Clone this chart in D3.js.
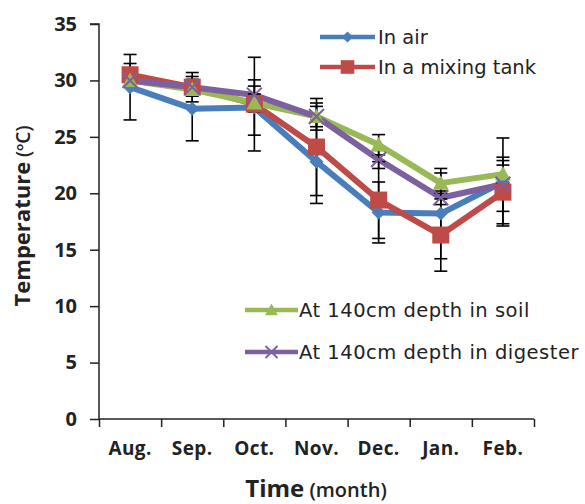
<!DOCTYPE html>
<html>
<head>
<meta charset="utf-8">
<script src="https://cdn.jsdelivr.net/npm/d3@7"></script>
<style>
  html, body { margin: 0; padding: 0; background: #fff; }
  svg { display: block; }
  text { font-family: "Open Sans", "DejaVu Sans", sans-serif; fill: #222; }
</style>
</head>
<body>
<svg id="chart" width="585" height="504"></svg>
<script>
// ---- data ----
const months = ["Aug.", "Sep.", "Oct.", "Nov.", "Dec.", "Jan.", "Feb."];
const yTicks = [0, 5, 10, 15, 20, 25, 30, 35];

const seriesNames = ["In air", "In a mixing tank", "At 140cm depth in soil", "At 140cm depth in digester"];
const airValues      = [29.4, 27.5, 27.6, 22.8, 18.3, 18.2, 21.0];
const airErrors      = [2.9, 2.85, 2.45, 3.7, 2.7, 4.0, 3.9];
const tankValues     = [30.5, 29.4, 27.9, 24.1, 19.4, 16.3, 20.1];
const tankErrors     = [1.0, 1.3, 4.15, 4.3, 3.4, 3.2, 2.8];
const soilValues     = [30.0, 29.2, 28.0, 26.8, 24.3, 20.9, 21.7];
const soilErrors     = [0.6, 0.6, 0.8, 0.9, 0.9, 0.9, 0.8];
const digesterValues = [30.0, 29.4, 28.7, 26.8, 23.0, 19.6, 20.8];
const digesterErrors = [0.6, 0.7, 0.8, 1.2, 0.8, 0.6, 2.4];

const colors = ["#4A7EBB", "#BE4B48", "#98B954", "#7D60A0"];
const markers = ["diamond", "square", "triangle", "x"];

const series = [
  { name: seriesNames[0], values: airValues, errors: airErrors, color: colors[0], marker: markers[0] },
  { name: seriesNames[1], values: tankValues, errors: tankErrors, color: colors[1], marker: markers[1] },
  { name: seriesNames[2], values: soilValues, errors: soilErrors, color: colors[2], marker: markers[2] },
  { name: seriesNames[3], values: digesterValues, errors: digesterErrors, color: colors[3], marker: markers[3] }
];

// ---- layout ----
const svg = d3.select("#chart");
const pL = 99, pR = 534, pT = 24, pB = 419;

const x = d3.scaleBand().domain(months).range([pL, pR]).paddingInner(0).paddingOuter(0);
const xEdge = d3.scaleLinear().domain([0, months.length]).range([pL, pR]);
const y = d3.scaleLinear().domain([0, 35]).range([pB, pT]);
const cx = m => x(m) + x.bandwidth() / 2;

function markerPath(type, k) {
  k = k || 1;
  switch (type) {
    case "diamond": return `M0,${-7*k}L${7*k},0L0,${7*k}L${-7*k},0Z`;
    case "square": return `M${-8.5*k},${-8.5*k}H${8.5*k}V${8.5*k}H${-8.5*k}Z`;
    case "triangle": return `M0,${-8*k}L${8*k},${6.5*k}H${-8*k}Z`;
    case "x": return `M${-7.5*k},${-7.5*k}L${7.5*k},${7.5*k}M${7.5*k},${-7.5*k}L${-7.5*k},${7.5*k}`;
  }
}

// axes
const yAxis = d3.axisLeft(y).tickValues(yTicks).tickSize(9).tickPadding(13).tickFormat(d3.format("d"));
const gy = svg.append("g").attr("transform", `translate(${pL},0)`).call(yAxis);
gy.select(".domain").attr("stroke", "#222").attr("stroke-width", 1.5).attr("d", `M-9,${pT}H0V${pB}`);
gy.selectAll(".tick line").attr("stroke", "#222").attr("stroke-width", 1.5);
gy.selectAll(".tick text").style("font-size", "20px").style("font-weight", "bold")
  .style("font-family", "'Open Sans', sans-serif").attr("fill", "#222");

const xTickAxis = d3.axisBottom(xEdge).tickValues(d3.range(0, months.length + 1)).tickSize(8).tickFormat("");
const gxt = svg.append("g").attr("transform", `translate(0,${pB})`).call(xTickAxis);
gxt.select(".domain").attr("stroke", "#222").attr("stroke-width", 1.5).attr("d", `M${pL},0H${pR}`);
gxt.selectAll(".tick line").attr("stroke", "#222").attr("stroke-width", 1.5);

const xLabelAxis = d3.axisBottom(x).tickSize(0).tickPadding(23);
const gx = svg.append("g").attr("transform", `translate(0,${pB})`).call(xLabelAxis);
gx.select(".domain").remove();
gx.selectAll(".tick text").style("font-size", "19px").style("font-weight", "bold")
  .style("font-family", "'Open Sans', sans-serif").style("letter-spacing", "0.4px").attr("fill", "#222");

// axis titles
const xt = svg.append("text").attr("x", 316).attr("y", 497).attr("text-anchor", "middle");
xt.append("tspan").text("Time").style("font-size", "24px").style("font-weight", "bold");
xt.append("tspan").text(" (month)").style("font-size", "20px").style("font-weight", "600");

const yt = svg.append("text").attr("transform", "translate(30,216) rotate(-90)").attr("text-anchor", "middle");
yt.append("tspan").text("Temperature").style("font-size", "22px").style("font-weight", "bold");
yt.append("tspan").text(" (ºC)").style("font-size", "19px").style("font-weight", "600");

// lines
const line = d3.line().x((d, i) => cx(months[i])).y(d => y(d));
const plot = svg.append("g");
series.forEach(s => {
  plot.append("path").datum(s.values).attr("d", line).attr("fill", "none")
    .attr("stroke", s.color).attr("stroke-width", 6).attr("stroke-linejoin", "round");
});

// error bars
series.forEach(s => {
  const g = plot.append("g").attr("stroke", "#000").attr("stroke-width", 1.6).attr("fill", "none");
  s.values.forEach((v, i) => {
    const px = cx(months[i]);
    const y1 = y(v + s.errors[i]), y0 = y(v - s.errors[i]);
    g.append("line").attr("x1", px).attr("x2", px).attr("y1", y1).attr("y2", y0);
    g.append("line").attr("x1", px - 6.5).attr("x2", px + 6.5).attr("y1", y1).attr("y2", y1);
    g.append("line").attr("x1", px - 6.5).attr("x2", px + 6.5).attr("y1", y0).attr("y2", y0);
  });
});

// markers
function drawMarker(g, type, color, px, py, k) {
  const p = g.append("path").attr("d", markerPath(type, k)).attr("transform", `translate(${px},${py})`);
  if (type === "x") p.attr("stroke", color).attr("stroke-width", 2).attr("fill", "none");
  else p.attr("fill", color).attr("stroke", "none");
}
series.forEach(s => {
  const g = plot.append("g");
  s.values.forEach((v, i) => drawMarker(g, s.marker, s.color, cx(months[i]), y(v), 1));
});

// legends
const legendPos = [
  { x0: 320, x1: 375, y: 37, tx: 378, ls: 0 },
  { x0: 320, x1: 375, y: 67, tx: 378, ls: 0 },
  { x0: 245, x1: 298, y: 310, tx: 299, ls: 0.5 },
  { x0: 245, x1: 298, y: 352, tx: 299, ls: 0.5 }
];
series.forEach((s, i) => {
  const p = legendPos[i];
  const g = svg.append("g");
  g.append("line").attr("x1", p.x0).attr("x2", p.x1).attr("y1", p.y).attr("y2", p.y)
    .attr("stroke", s.color).attr("stroke-width", 4.5);
  drawMarker(g, s.marker, s.color, (p.x0 + p.x1) / 2, p.y, 0.8);
  g.append("text").attr("x", p.tx).attr("y", p.y).attr("dy", "0.36em")
    .style("font-family", "'DejaVu Sans', sans-serif")
    .style("letter-spacing", p.ls + "px")
    .style("font-size", "19.5px").text(s.name).attr("fill", "#333");
});
</script>
</body>
</html>
